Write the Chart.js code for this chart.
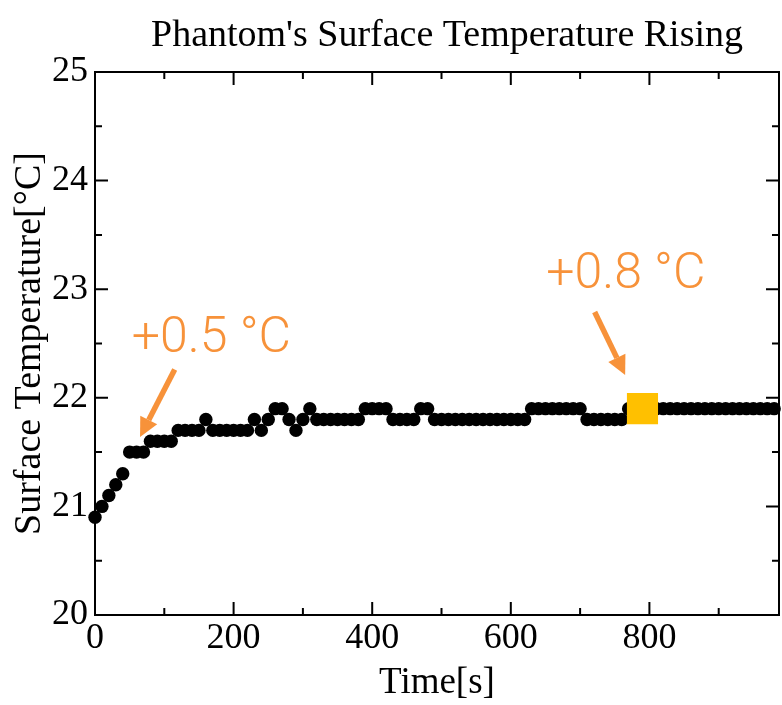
<!DOCTYPE html>
<html>
<head>
<meta charset="utf-8">
<script src="https://cdn.jsdelivr.net/npm/chart.js@4"></script>
<style>
  html, body { margin: 0; padding: 0; background: #fff; }
</style>
</head>
<body>
<canvas id="chart" width="782" height="705"></canvas>
<script>
const times = [
  0, 10, 20, 30, 40, 50, 60, 70, 80, 90,
  100, 110, 120, 130, 140, 150, 160, 170, 180, 190,
  200, 210, 220, 230, 240, 250, 260, 270, 280, 290,
  300, 310, 320, 330, 340, 350, 360, 370, 380, 390,
  400, 410, 420, 430, 440, 450, 460, 470, 480, 490,
  500, 510, 520, 530, 540, 550, 560, 570, 580, 590,
  600, 610, 620, 630, 640, 650, 660, 670, 680, 690,
  700, 710, 720, 730, 740, 750, 760, 770, 780, 790,
  800, 810, 820, 830, 840, 850, 860, 870, 880, 890,
  900, 910, 920, 930, 940, 950, 960, 970, 980,
];
const temps = [
  20.9, 21.0, 21.1, 21.2, 21.3, 21.5, 21.5, 21.5, 21.6, 21.6,
  21.6, 21.6, 21.7, 21.7, 21.7, 21.7, 21.8, 21.7, 21.7, 21.7,
  21.7, 21.7, 21.7, 21.8, 21.7, 21.8, 21.9, 21.9, 21.8, 21.7,
  21.8, 21.9, 21.8, 21.8, 21.8, 21.8, 21.8, 21.8, 21.8, 21.9,
  21.9, 21.9, 21.9, 21.8, 21.8, 21.8, 21.8, 21.9, 21.9, 21.8,
  21.8, 21.8, 21.8, 21.8, 21.8, 21.8, 21.8, 21.8, 21.8, 21.8,
  21.8, 21.8, 21.8, 21.9, 21.9, 21.9, 21.9, 21.9, 21.9, 21.9,
  21.9, 21.8, 21.8, 21.8, 21.8, 21.8, 21.8, 21.9, 21.9, 21.9,
  21.9, 21.9, 21.9, 21.9, 21.9, 21.9, 21.9, 21.9, 21.9, 21.9,
  21.9, 21.9, 21.9, 21.9, 21.9, 21.9, 21.9, 21.9, 21.9,
];
// highlighted reading
const markTime = [790];
const markTemp = [21.9];

const xMajor = [0, 200, 400, 600, 800];
const xMinor = [100, 300, 500, 700, 900];
const yMajor = [20, 21, 22, 23, 24, 25];
const yMinor = [20.5, 21.5, 22.5, 23.5, 24.5];

const notes = [
  { text: "+0.5 °C", x: 168, y: 22.42, fromX: 115, fromY: 22.26, toX: 65, toY: 21.64 },
  { text: "+0.8 °C", x: 766, y: 23.01, fromX: 721, fromY: 22.79, toX: 765, toY: 22.21 },
];

const orange = "#F7923A";
const serif = "'Liberation Serif', 'Times New Roman', serif";

const arrow = (ctx, x1, y1, x2, y2) => {
  const ang = Math.atan2(y2 - y1, x2 - x1);
  const head = 19;
  const bx = x2 - head * Math.cos(ang);
  const by = y2 - head * Math.sin(ang);
  ctx.beginPath();
  ctx.moveTo(x1, y1);
  ctx.lineTo(bx, by);
  ctx.stroke();
  ctx.beginPath();
  ctx.moveTo(x2, y2);
  ctx.lineTo(bx + 9.5 * Math.sin(ang), by - 9.5 * Math.cos(ang));
  ctx.lineTo(bx - 9.5 * Math.sin(ang), by + 9.5 * Math.cos(ang));
  ctx.closePath();
  ctx.fill();
};

const decor = {
  id: "decor",
  afterDatasetsDraw(chart) {
    const { ctx, chartArea: a, scales } = chart;
    const xs = scales.x;
    const ys = scales.y;
    ctx.save();

    // frame and inward ticks
    ctx.strokeStyle = "#000";
    ctx.lineWidth = 2;
    ctx.strokeRect(a.left, a.top, a.right - a.left, a.bottom - a.top);
    ctx.beginPath();
    const tx = (v, len) => {
      const p = xs.getPixelForValue(v);
      ctx.moveTo(p, a.bottom); ctx.lineTo(p, a.bottom - len);
      ctx.moveTo(p, a.top); ctx.lineTo(p, a.top + len);
    };
    const ty = (v, len) => {
      const p = ys.getPixelForValue(v);
      ctx.moveTo(a.left, p); ctx.lineTo(a.left + len, p);
      ctx.moveTo(a.right, p); ctx.lineTo(a.right - len, p);
    };
    xMajor.forEach((v) => tx(v, 13));
    xMinor.forEach((v) => tx(v, 7));
    yMajor.forEach((v) => ty(v, 13));
    yMinor.forEach((v) => ty(v, 7));
    ctx.stroke();

    // title
    ctx.fillStyle = "#000";
    ctx.font = "38px " + serif;
    ctx.textAlign = "center";
    ctx.textBaseline = "alphabetic";
    ctx.fillText("Phantom's Surface Temperature Rising", 447, 46);

    // annotations
    ctx.fillStyle = orange;
    ctx.strokeStyle = orange;
    ctx.lineWidth = 5.5;
    ctx.font = "300 50px Roboto, 'Noto Sans', sans-serif";
    for (const n of notes) {
      ctx.fillText(n.text, xs.getPixelForValue(n.x), ys.getPixelForValue(n.y));
      arrow(ctx,
        xs.getPixelForValue(n.fromX), ys.getPixelForValue(n.fromY),
        xs.getPixelForValue(n.toX), ys.getPixelForValue(n.toY));
    }
    ctx.restore();
  },
};

const config = {
  type: "scatter",
  data: {
    datasets: [
      {
        data: times.map((t, i) => ({ x: t, y: temps[i] })),
        backgroundColor: "#000",
        borderWidth: 0,
        pointRadius: 6.7,
        pointHoverRadius: 6.7,
        clip: false,
        order: 2,
      },
      {
        data: markTime.map((t, i) => ({ x: t, y: markTemp[i] })),
        backgroundColor: "#FFC000",
        borderWidth: 0,
        pointStyle: "rect",
        pointRadius: 22,
        pointHoverRadius: 22,
        clip: false,
        order: 1,
      },
    ],
  },
  options: {
    responsive: false,
    animation: false,
    layout: { autoPadding: false, padding: { left: 0, right: 3, top: 72, bottom: 0 } },
    plugins: { legend: { display: false }, tooltip: { enabled: false } },
    scales: {
      x: {
        type: "linear",
        min: 0,
        max: 987,
        afterBuildTicks: (s) => { s.ticks = xMajor.map((v) => ({ value: v })); },
        afterFit: (s) => { s.height = 90; s.paddingRight = 0; s.paddingLeft = 0; },
        grid: { display: false, drawTicks: false },
        border: { display: false },
        ticks: { color: "#000", padding: 2, maxRotation: 0, font: { family: serif, size: 36 } },
        title: { display: true, text: "Time[s]", color: "#000", padding: { top: 0, bottom: 0 }, font: { family: serif, size: 37 } },
      },
      y: {
        type: "linear",
        min: 20,
        max: 25,
        afterBuildTicks: (s) => { s.ticks = yMajor.map((v) => ({ value: v })); },
        afterFit: (s) => { s.width = 95; },
        grid: { display: false, drawTicks: false },
        border: { display: false },
        ticks: { color: "#000", padding: 7, font: { family: serif, size: 36 } },
        title: { display: true, text: "Surface Temperature[°C]", color: "#000", padding: { top: 7, bottom: 0 }, font: { family: serif, size: 38 } },
      },
    },
  },
  plugins: [decor],
};

new Chart(document.getElementById("chart"), config);
</script>
</body>
</html>
